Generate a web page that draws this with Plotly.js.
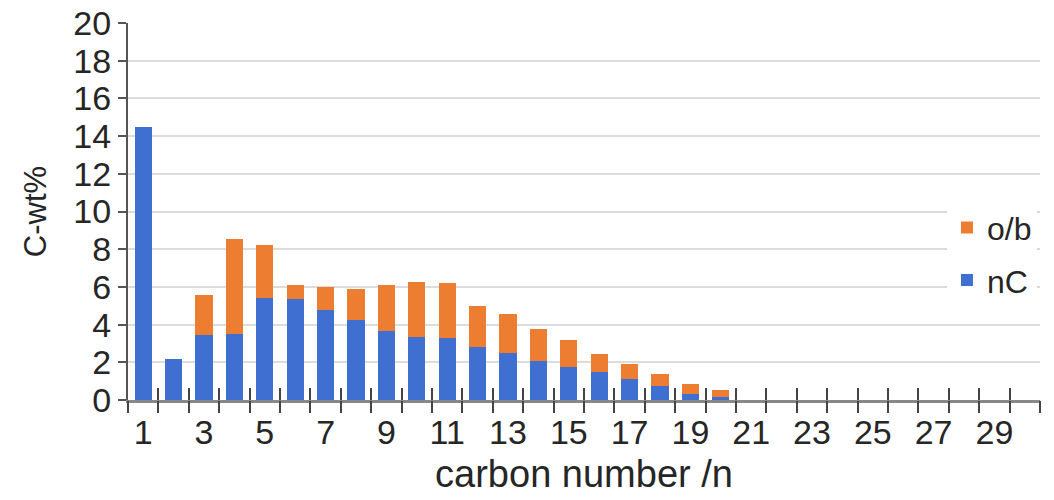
<!DOCTYPE html>
<html>
<head>
<meta charset="utf-8">
<script src="https://cdn.plot.ly/plotly-3.0.1.min.js"></script>
<style>html,body{margin:0;padding:0;background:#fff;}#chart{width:1054px;height:500px;}</style>
</head>
<body>
<div id="chart"></div>
<script>
var categories = [1,2,3,4,5,6,7,8,9,10,11,12,13,14,15,16,17,18,19,20,21,22,23,24,25,26,27,28,29,30];
var nC = [14.5,2.2,3.45,3.5,5.4,5.35,4.8,4.25,3.65,3.35,3.28,2.8,2.5,2.05,1.75,1.5,1.12,0.75,0.33,0.18,0,0,0,0,0,0,0,0,0,0];
var ob = [0,0,2.1,5.05,2.8,0.77,1.2,1.65,2.43,2.91,2.92,2.17,2.05,1.72,1.42,0.92,0.78,0.61,0.5,0.35,0,0,0,0,0,0,0,0,0,0];
var xTickLabels = ['1','3','5','7','9','11','13','15','17','19','21','23','25','27','29'];
var yTicks = [0,2,4,6,8,10,12,14,16,18,20];

var xTickVals = xTickLabels.map(Number);
var boundaries = categories.map(function(c){return c-0.5;}).concat([categories[categories.length-1]+0.5]);
var xRange = [categories[0]-0.5, categories[categories.length-1]+0.5];

var FONT = 'Liberation Sans, Arial, sans-serif';
var BLUE = '#3F6FD1', ORANGE = '#ED7D31';
var traces = [
  {type:'bar', name:'nC', x:categories, y:nC, width:0.57, marker:{color:BLUE}, legendgroup:'a', legendrank:2},
  {type:'bar', name:'o/b', x:categories, y:ob, width:0.57, marker:{color:ORANGE}, legendgroup:'b', legendrank:1},
  {type:'scatter', x:[], y:[], xaxis:'x2', yaxis:'y', showlegend:false, hoverinfo:'skip'},
  {type:'scatter', x:[], y:[], xaxis:'x3', yaxis:'y', showlegend:false, hoverinfo:'skip'}
];
var layout = {
  width:1054, height:500,
  margin:{l:128, r:14, t:23, b:100},
  paper_bgcolor:'#fff', plot_bgcolor:'#fff',
  barmode:'stack',
  font:{family:FONT, color:'#262626'},
  showlegend:true,
  legend:{x:0.898, xanchor:'left', y:0.53, yanchor:'top', bgcolor:'#fff',
          font:{size:32, color:'#262626', family:FONT}, traceorder:'grouped', tracegroupgap:8},
  xaxis:{type:'linear', range:xRange, tickvals:xTickVals, ticktext:xTickLabels, ticks:'',
         showgrid:false, zeroline:false, showline:true, linecolor:'#888', linewidth:3,
         tickfont:{size:34, family:FONT, color:'#262626'},
         title:{text:'carbon number /n', font:{size:38, family:FONT, color:'#262626'}, standoff:11}},
  xaxis2:{type:'linear', overlaying:'x', anchor:'y', side:'bottom', range:xRange, tickvals:boundaries, ticks:'outside', ticklen:12,
          tickwidth:2, tickcolor:'#444', showticklabels:false, showgrid:false, zeroline:false, showline:false},
  xaxis3:{type:'linear', overlaying:'x', anchor:'y', side:'bottom', range:xRange, tickvals:boundaries, ticks:'inside', ticklen:12,
          tickwidth:2, tickcolor:'#444', showticklabels:false, showgrid:false, zeroline:false, showline:false},
  yaxis:{range:[0,20], tickvals:yTicks, ticks:'outside', ticklen:8, tickwidth:2, tickcolor:'#555',
         showline:true, linecolor:'#555', linewidth:2, showgrid:true, gridcolor:'#dcdcdc', gridwidth:2, zeroline:false,
         tickfont:{size:34, family:FONT, color:'#262626'},
         title:{text:'C-wt%', font:{size:31, family:FONT, color:'#262626'}, standoff:18}}
};
Plotly.newPlot('chart', traces, layout, {displayModeBar:false, staticPlot:true});
</script>
</body>
</html>
